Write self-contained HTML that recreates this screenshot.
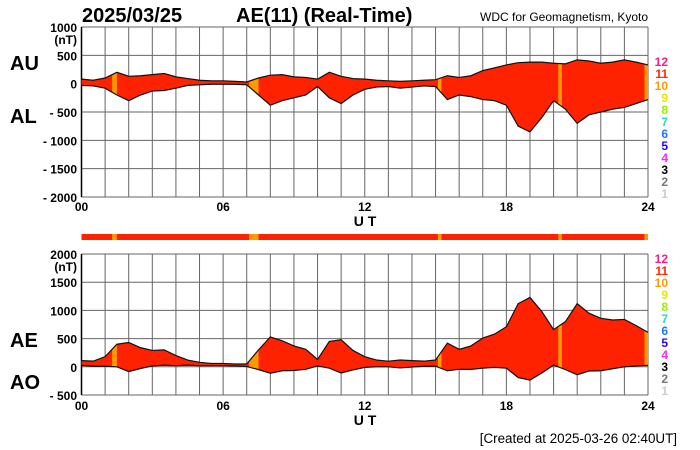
<!DOCTYPE html>
<html><head><meta charset="utf-8"><style>
html,body{margin:0;padding:0;background:#fff;}
svg{display:block;font-family:"Liberation Sans",Arial,sans-serif;}
</style></head><body>
<svg id="chart" width="700" height="450" viewBox="0 0 700 450" xmlns="http://www.w3.org/2000/svg">
<text x="82" y="22" font-size="20" font-weight="bold">2025/03/25</text>
<text x="236" y="22" font-size="20" font-weight="bold">AE(11) (Real-Time)</text>
<text x="480" y="21" font-size="12">WDC for Geomagnetism, Kyoto</text>
<text x="10" y="70" font-size="20" font-weight="bold">AU</text>
<text x="10" y="123" font-size="20" font-weight="bold">AL</text>
<text x="10" y="347" font-size="20" font-weight="bold">AE</text>
<text x="10" y="389" font-size="20" font-weight="bold">AO</text>
<text x="677" y="443" font-size="13.4" text-anchor="end">[Created at 2025-03-26 02:40UT]</text>
<g id="top"></g><g id="bot"></g><g id="leg"></g>
</svg>
<script>
const hours = [0,0.5,1,1.5,2,2.5,3,3.5,4,4.5,5,5.5,6,6.5,7,7.5,8,8.5,9,9.5,10,10.5,11,11.5,12,12.5,13,13.5,14,14.5,15,15.5,16,16.5,17,17.5,18,18.5,19,19.5,20,20.5,21,21.5,22,22.5,23,23.5,24];
const auValues = [80,60,100,200,130,140,160,180,120,90,60,50,50,40,30,100,150,160,120,110,80,200,130,90,80,60,50,40,50,60,70,140,110,140,230,280,330,370,380,380,360,350,420,400,360,380,420,380,330];
const alValues = [-30,-40,-80,-200,-300,-200,-130,-120,-80,-30,-20,-10,-10,-10,-20,-200,-380,-300,-250,-200,-50,-250,-350,-200,-100,-60,-50,-80,-60,-40,-50,-280,-200,-230,-280,-300,-380,-750,-850,-600,-300,-450,-700,-550,-500,-450,-420,-350,-280];
const orangeSpans = [[1.3,1.5],[7.1,7.5],[15.1,15.25],[20.2,20.35],[23.85,24]];
const topTicks = [1000,500,0,-500,-1000,-1500,-2000];
const botTicks = [2000,1500,1000,500,0,-500];
const xTickLabels = ["00","06","12","18","24"];
const legendLabels = ["12","11","10","9","8","7","6","5","4","3","2","1"];
const legendColors = ["#ff1a8c","#ff2a00","#ff9900","#e8e800","#99ee00","#22e0c0","#1a7aff","#2a00ff","#ff22ff","#000","#777","#ccc"];

const NS="http://www.w3.org/2000/svg";
const X0=81.5,X1=648;
const xs=h=>X0+(X1-X0)*h/24;
function mk(tag,attrs,parent){const e=document.createElementNS(NS,tag);for(const k in attrs)e.setAttribute(k,attrs[k]);parent.appendChild(e);return e;}
const RED="#ff2200",ORG="#ff9a00";

function panel(g,yTop,yBot,vMax,vMin,ticks,upper,lower,id,xlY){
  const ys=v=>yTop+(vMax-v)/(vMax-vMin)*(yBot-yTop);
  for(let h=0;h<=24;h++){const l=mk('line',{x1:xs(h),x2:xs(h),y1:yTop,y2:yBot,stroke:'#666','stroke-width':1},g);
    }
  ticks.forEach((t,i)=>{const l=mk('line',{x1:X0,x2:X1,y1:ys(t),y2:ys(t),stroke:'#666','stroke-width':1},g);
    
    const lab=String(t).replace('-','- ');
    const tx=mk('text',{x:77,y:ys(t)+5,'font-size':12,'font-weight':'bold','text-anchor':'end'},g);tx.textContent=lab;
    
    if(i===0){const u=mk('text',{x:77,y:ys(t)+17,'font-size':12,'font-weight':'bold','text-anchor':'end'},g);u.textContent='(nT)';
      }
  });
  mk('line',{x1:X0,x2:X0,y1:yTop,y2:yBot,stroke:'#000','stroke-width':1.5},g);
  let pts=hours.map((h,i)=>xs(h)+','+ys(upper[i]));
  let pts2=hours.map((h,i)=>xs(h)+','+ys(lower[i])).reverse();
  const d='M'+pts.join('L')+'L'+pts2.join('L')+'Z';
  const cp=mk('clipPath',{id:'cp'+id},g);mk('path',{d:d},cp);
  const area=mk('path',{d:d,fill:RED,stroke:'none'},g);
  
  orangeSpans.forEach(s=>{const r=mk('rect',{x:xs(s[0]),y:yTop,width:xs(s[1])-xs(s[0]),height:yBot-yTop,fill:ORG,'clip-path':'url(#cp'+id+')'},g);
    });
  const u=mk('polyline',{points:pts.join(' '),fill:'none',stroke:'#111','stroke-width':1.2},g);
  
  const lo=mk('polyline',{points:pts2.join(' '),fill:'none',stroke:'#111','stroke-width':1.2},g);
  
  xTickLabels.forEach((t,i)=>{const tx=mk('text',{x:xs(i*6),y:xlY,'font-size':12,'font-weight':'bold','text-anchor':'middle'},g);tx.textContent=t;
    });
  const ut=mk('text',{x:365,y:xlY+15,'font-size':14,'font-weight':'bold','text-anchor':'middle'},g);ut.textContent='U T';
  
}
panel(document.getElementById('top'),27,197,1000,-2000,topTicks,auValues,alValues,'t',211);
const ae=auValues.map((v,i)=>v-alValues[i]);
const ao=auValues.map((v,i)=>(v+alValues[i])/2);
const bg=document.getElementById('bot');
panel(bg,254,395,2000,-500,botTicks,ae,ao,'b',410);
const sb=mk('rect',{x:X0,y:234,width:X1-X0,height:6,fill:RED},bg);

orangeSpans.forEach(s=>{const r=mk('rect',{x:xs(s[0]),y:234,width:xs(s[1])-xs(s[0]),height:6,fill:ORG},bg);
  });
const lg=document.getElementById('leg');
[61,258].forEach(y0=>{legendLabels.forEach((t,i)=>{const tx=mk('text',{x:668,y:y0+5+i*12,'font-size':12,'font-weight':'bold','text-anchor':'end',fill:legendColors[i]},lg);tx.textContent=t;
  });});
</script>
</body></html>
